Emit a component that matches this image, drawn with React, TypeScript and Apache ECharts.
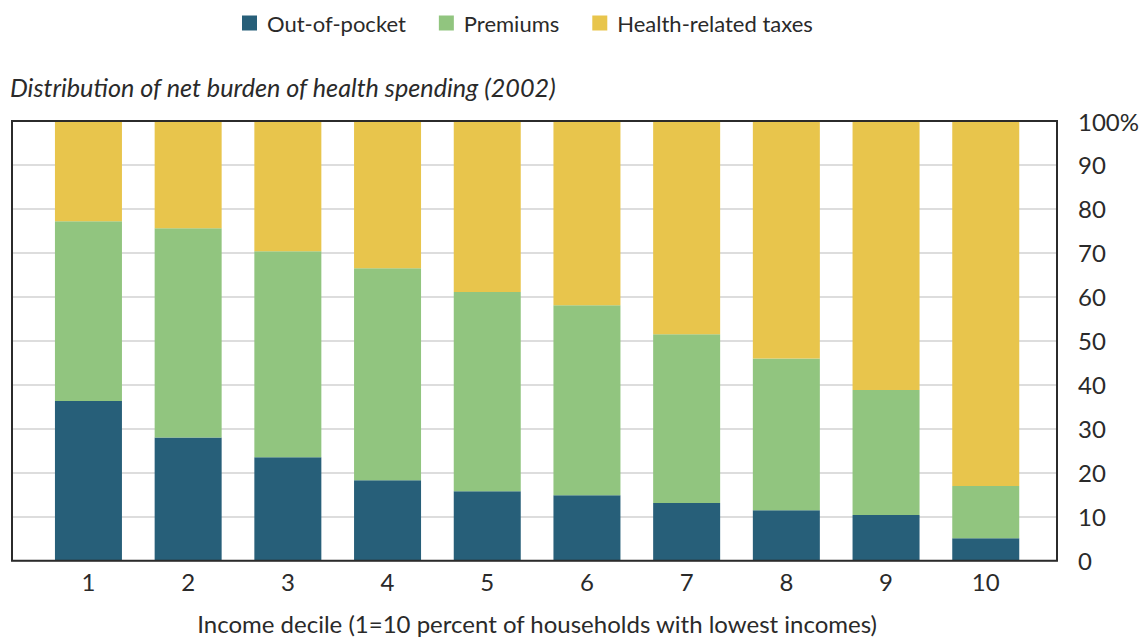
import React, { useEffect, useRef } from "react";
import * as echarts from "echarts";

const deciles = ["1", "2", "3", "4", "5", "6", "7", "8", "9", "10"];
const outOfPocket = [36.3, 28.0, 23.5, 18.3, 15.8, 14.9, 13.1, 11.5, 10.4, 5.1];
const premiums = [40.9, 47.6, 46.9, 48.2, 45.3, 43.2, 38.4, 34.5, 28.4, 11.9];
const taxes = [22.8, 24.4, 29.6, 33.5, 38.9, 41.9, 48.5, 54.0, 61.2, 83.0];
const yTicks = [0, 10, 20, 30, 40, 50, 60, 70, 80, 90, 100];

const FONT = "Lato";
const TEXT = "#2a2a2a";

export default function App() {
  const ref = useRef<HTMLDivElement>(null);
  useEffect(() => {
    if (!ref.current) return;
    const chart = echarts.init(ref.current, null, { renderer: "svg" });
    chart.setOption({
      animation: false,
      backgroundColor: "#ffffff",
      textStyle: { fontFamily: FONT },
      legend: {
        left: 237,
        top: 7,
        itemWidth: 15,
        itemHeight: 15,
        itemGap: 33,
        icon: "rect",
        textStyle: { fontFamily: FONT, fontSize: 22, color: TEXT, padding: [0, 0, 0, 5] },
        data: ["Out-of-pocket", "Premiums", "Health-related taxes"],
      },
      graphic: [
        {
          type: "text",
          left: 10,
          top: 74,
          style: {
            text: "Distribution of net burden of health spending (2002)",
            fontFamily: FONT,
            fontStyle: "italic",
            fontSize: 25.2,
            fill: TEXT,
          },
        },
      ],
      grid: [
        { left: 38.6, right: 107.4, top: 121, bottom: 78.3, containLabel: false, outerBoundsMode: "none" },
        {
          left: 12,
          right: 86,
          top: 121,
          bottom: 78.3,
          show: true,
          borderColor: "#2b2b2b",
          borderWidth: 2,
          backgroundColor: "transparent",
          outerBoundsMode: "none",
          z: 5,
        },
      ],
      xAxis: [
        {
          type: "category",
          gridIndex: 0,
          data: deciles,
          axisLine: { show: false },
          axisTick: { show: false },
          axisLabel: { fontFamily: FONT, fontSize: 24, color: TEXT, margin: 9 },
          name: "Income decile (1=10 percent of households with lowest incomes)",
          nameLocation: "middle",
          nameGap: 51,
          nameTextStyle: { fontFamily: FONT, fontSize: 24, color: TEXT },
        },
        { type: "value", gridIndex: 1, show: false, min: 0, max: 1 },
      ],
      yAxis: [
        { type: "value", gridIndex: 0, min: 0, max: 100, show: false },
        {
          type: "value",
          gridIndex: 1,
          min: 0,
          max: 100,
          interval: 10,
          position: "right",
          axisLine: { show: false },
          axisTick: { show: false },
          splitLine: { show: true, lineStyle: { color: "#d2d2d2", width: 1.5 } },
          axisLabel: {
            fontFamily: FONT,
            fontSize: 24,
            color: TEXT,
            margin: 21,
            formatter: (v: number) => (v === yTicks[yTicks.length - 1] ? v + "%" : String(v)),
          },
        },
      ],
      series: [
        {
          name: "Out-of-pocket",
          type: "bar",
          stack: "total",
          xAxisIndex: 0,
          yAxisIndex: 0,
          barWidth: 67,
          data: outOfPocket,
          itemStyle: { color: "#275f79" },
          z: 3,
        },
        {
          name: "Premiums",
          type: "bar",
          stack: "total",
          xAxisIndex: 0,
          yAxisIndex: 0,
          barWidth: 67,
          data: premiums,
          itemStyle: { color: "#91c57f" },
          z: 3,
        },
        {
          name: "Health-related taxes",
          type: "bar",
          stack: "total",
          xAxisIndex: 0,
          yAxisIndex: 0,
          barWidth: 67,
          data: taxes,
          itemStyle: { color: "#e8c54c" },
          z: 3,
        },
      ],
    });
    return () => chart.dispose();
  }, []);
  return (
    <div
      ref={ref}
      style={{ position: "fixed", left: 0, top: 0, width: 1143, height: 639 }}
    />
  );
}
